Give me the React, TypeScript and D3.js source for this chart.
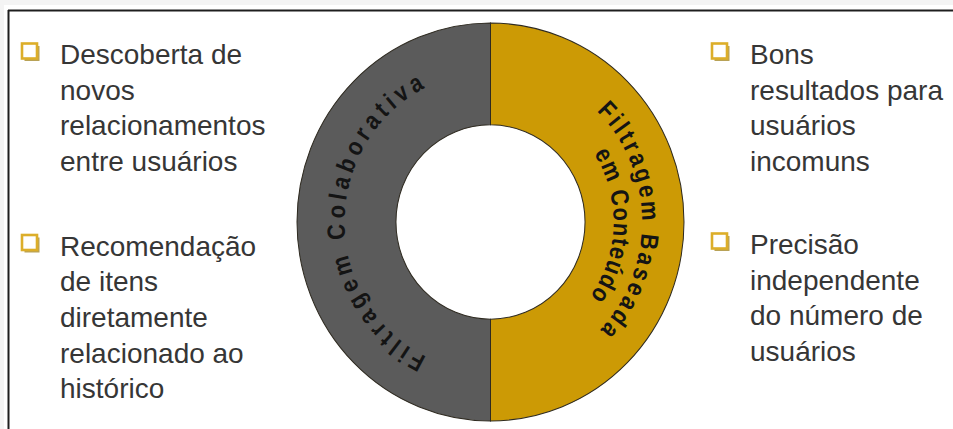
import React, { useMemo } from 'react';
import * as d3 from 'd3';

// ---- data ----
const segments = ['Filtragem Colaborativa', 'Filtragem Baseada em Conteúdo'];
const segmentValues = [50, 50];
const segmentColors = ['#5b5b5b', '#cc9a05'];
const ringLabelLines = [
  ['Filtragem Colaborativa'],
  ['Filtragem Baseada', 'em Conteúdo'],
];
const leftBullets = [
  ['Descoberta de', 'novos', 'relacionamentos', 'entre usuários'],
  ['Recomendação', 'de itens', 'diretamente', 'relacionado ao', 'histórico'],
];
const rightBullets = [
  ['Bons', 'resultados para', 'usuários', 'incomuns'],
  ['Precisão', 'independente', 'do número de', 'usuários'],
];

// ---- layout (styles/positions) ----
const W = 953;
const H = 429;
const CX = 490.5;
const CY = 222;
const R_OUT = 193.5;
const R_IN = 94.5;
const KY = 1.028;
const RING_FONT = 25;
const RING_SX = 0.85;
// per label line: [startDeg, endDeg, baselineRadius]
const ringLayout = [
  [[208.5, 331, 146]],
  [[47, 131.5, 151.5], [60, 123, 123]],
];

const BULLET_FONT = 28;
const LINE_H = 35.7;
const columns = [
  { items: leftBullets, bulletX: 22, textX: 60, baselines: [64, 255.5] },
  { items: rightBullets, bulletX: 712, textX: 750, baselines: [64, 254] },
];

let ctx: CanvasRenderingContext2D | null = null;
function measure(s: string, font: string) {
  if (!ctx) ctx = document.createElement('canvas').getContext('2d');
  if (!ctx) return s.length * 10;
  ctx.font = font;
  return ctx.measureText(s).width;
}

function CurvedLine({ text, layout }: { text: string; layout: number[] }) {
  const [a0, a1, r] = layout;
  const font = `bold ${RING_FONT}px "Liberation Sans", Arial, sans-serif`;
  const chars = Array.from(text);
  const widths = chars.map((c) => measure(c, font) * RING_SX);
  let centerDist = 0;
  for (let i = 1; i < chars.length; i++) centerDist += widths[i - 1] / 2 + widths[i] / 2;
  const arcLen = ((a1 - a0) * Math.PI) / 180 * r;
  const gap = (arcLen - centerDist) / (chars.length - 1);
  let s = 0;
  const out: JSX.Element[] = [];
  chars.forEach((c, i) => {
    if (i > 0) s += widths[i - 1] / 2 + widths[i] / 2 + gap;
    const a = (a0 * Math.PI) / 180 + s / r;
    const x = r * Math.sin(a);
    const y = -r * Math.cos(a);
    out.push(
      <text
        key={i}
        transform={`translate(${x},${y}) rotate(${(a * 180) / Math.PI}) scale(${RING_SX},1)`}
        textAnchor="middle"
        fontFamily='"Liberation Sans", Arial, sans-serif'
        fontWeight="bold"
        fontSize={RING_FONT}
        fill="#141414"
      >
        {c}
      </text>
    );
  });
  return <g>{out}</g>;
}

function Bullet({ x, y }: { x: number; y: number }) {
  return (
    <g>
      <rect x={x + 2.5} y={y + 2.5} width={15} height={15} fill="#9a7a10" opacity={0.7} />
      <rect x={x} y={y} width={15} height={15} fill="#ffffff" stroke="#dcae2a" strokeWidth={2.6} />
    </g>
  );
}

export default function App() {
  const arcs = useMemo(
    () =>
      d3
        .pie<number>()
        .sort(null)
        .startAngle(Math.PI)
        .endAngle(3 * Math.PI)(segmentValues),
    []
  );
  const arcGen = d3.arc<d3.PieArcDatum<number>>().innerRadius(R_IN).outerRadius(R_OUT);

  return (
    <div style={{ position: 'absolute', left: 0, top: 0 }}>
      <svg width={W} height={H} style={{ display: 'block', background: '#fff' }}>
        <rect x={0} y={0} width={W} height={5} fill="#f4f4f4" />
        <rect x={0} y={0} width={4} height={H} fill="#f4f4f4" />
        <line x1={8} y1={10.5} x2={W} y2={10.5} stroke="#1e1e1e" strokeWidth={2} />
        <line x1={8.5} y1={10} x2={8.5} y2={H} stroke="#1e1e1e" strokeWidth={2} />

        <g transform={`translate(${CX},${CY}) scale(1,${KY})`}>
          {arcs.map((d, i) => (
            <path key={segments[i]} d={arcGen(d) || ''} fill={segmentColors[i]} stroke="#2e2a20" strokeWidth={1} />
          ))}
          {ringLabelLines.map((lines, i) =>
            lines.map((ln, j) => <CurvedLine key={`${i}-${j}`} text={ln} layout={ringLayout[i][j]} />)
          )}
        </g>

        {columns.map((col, ci) =>
          col.items.map((lines, gi) => (
            <g key={`${ci}-${gi}`}>
              <Bullet x={col.bulletX} y={col.baselines[gi] - 20.5} />
              {lines.map((ln, li) => (
                <text
                  key={li}
                  x={col.textX}
                  y={col.baselines[gi] + li * LINE_H}
                  fontFamily='"Liberation Sans", Arial, sans-serif'
                  fontSize={BULLET_FONT}
                  fill="#363636"
                >
                  {ln}
                </text>
              ))}
            </g>
          ))
        )}
      </svg>
    </div>
  );
}
